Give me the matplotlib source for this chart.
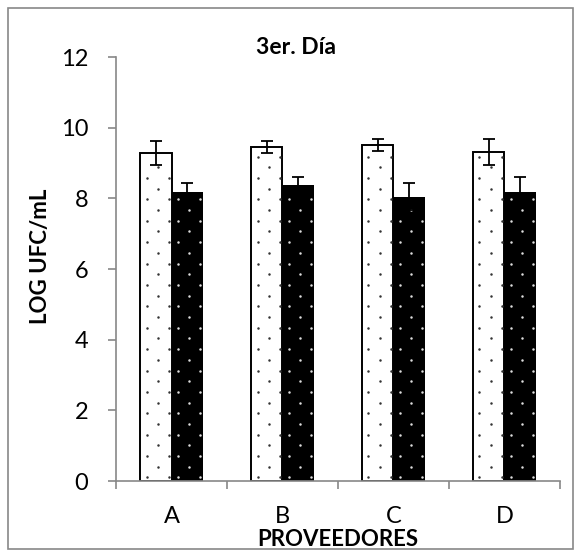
import numpy as np
import matplotlib
matplotlib.use('Agg')
import matplotlib.pyplot as plt
from matplotlib.patches import Rectangle

plt.rcParams['font.family'] = ['Lato', 'DejaVu Sans']

# datos
proveedores = ['A', 'B', 'C', 'D']
serie_blanca = [9.28, 9.46, 9.51, 9.32]
err_blanca = [0.34, 0.17, 0.18, 0.36]
serie_negra = [8.19, 8.37, 8.05, 8.17]
err_negra = [0.26, 0.24, 0.39, 0.43]

fig = plt.figure(figsize=(5.81, 5.57), dpi=100)
ax = fig.add_axes([0.1997, 0.1364, 0.764, 0.761])

x = np.arange(len(proveedores))
w = 0.285


def puntos(ax, left, height, color):
    """patrón de puntos al tresbolillo dentro de una barra"""
    dy = 10.7 / 35.33
    xs, ys = [], []
    k = 0
    y = 0.1
    while y < height - 0.1:
        if k % 2 == 0:
            offs = [0.060, 0.259]
        else:
            offs = [0.160]
        for o in offs:
            xs.append(left + o)
            ys.append(y)
        k += 1
        y += dy
    ax.scatter(xs, ys, s=3.2, color=color, linewidths=0, zorder=3)


ax.bar(x - w / 2, serie_blanca, w, color='white', edgecolor='black', linewidth=1.4, zorder=2)
ax.bar(x + w / 2, serie_negra, w, color='black', linewidth=0, zorder=2)
for i in range(len(proveedores)):
    puntos(ax, x[i] - w, serie_blanca[i], '#333333')
    puntos(ax, x[i], serie_negra[i], '#dddddd')

ax.errorbar(x - w / 2, serie_blanca, yerr=err_blanca, fmt='none', ecolor='black',
            elinewidth=1.3, capsize=4.3, capthick=1.3, zorder=4)
ax.errorbar(x + w / 2, serie_negra, yerr=err_negra, fmt='none', ecolor='black',
            elinewidth=1.3, capsize=4.3, capthick=1.3, zorder=4)

ax.set_xlim(-0.5, len(proveedores) - 0.5)
ax.set_ylim(0, 12)
ax.set_yticks(range(0, 13, 2))
ax.set_xticks(np.arange(-0.5, len(proveedores), 1.0))
ax.set_xticklabels([])
ax.set_xticks(x, minor=True)
ax.set_xticklabels(proveedores, minor=True)
ax.tick_params(axis='x', which='minor', length=0, pad=18, labelsize=17)
ax.tick_params(axis='x', which='major', length=6, color='#888888', width=1.2)
ax.tick_params(axis='y', length=5.5, color='#888888', width=1.2, labelsize=17, pad=14.5)

for s in ['top', 'right']:
    ax.spines[s].set_visible(False)
for s in ['left', 'bottom']:
    ax.spines[s].set_color('#888888')
    ax.spines[s].set_linewidth(1.2)

fig.text(296 / 581, 1 - 48 / 557, '3er. Día', ha='center', va='center',
         fontsize=16.5, fontweight='bold')
fig.text(41 / 581, 1 - 256 / 557, 'LOG UFC/mL', ha='center', va='center',
         rotation=90, fontsize=16, fontweight='bold')
fig.text(338 / 581, 1 - 539 / 557, 'PROVEEDORES', ha='center', va='center',
         fontsize=16, fontweight='bold')

# marco exterior
fig.patches.append(Rectangle((8 / 581, 8 / 557), 565 / 581, 541 / 557,
                             transform=fig.transFigure, fill=False,
                             edgecolor='#888888', linewidth=1.2))

fig.savefig('out.png', dpi=100)
